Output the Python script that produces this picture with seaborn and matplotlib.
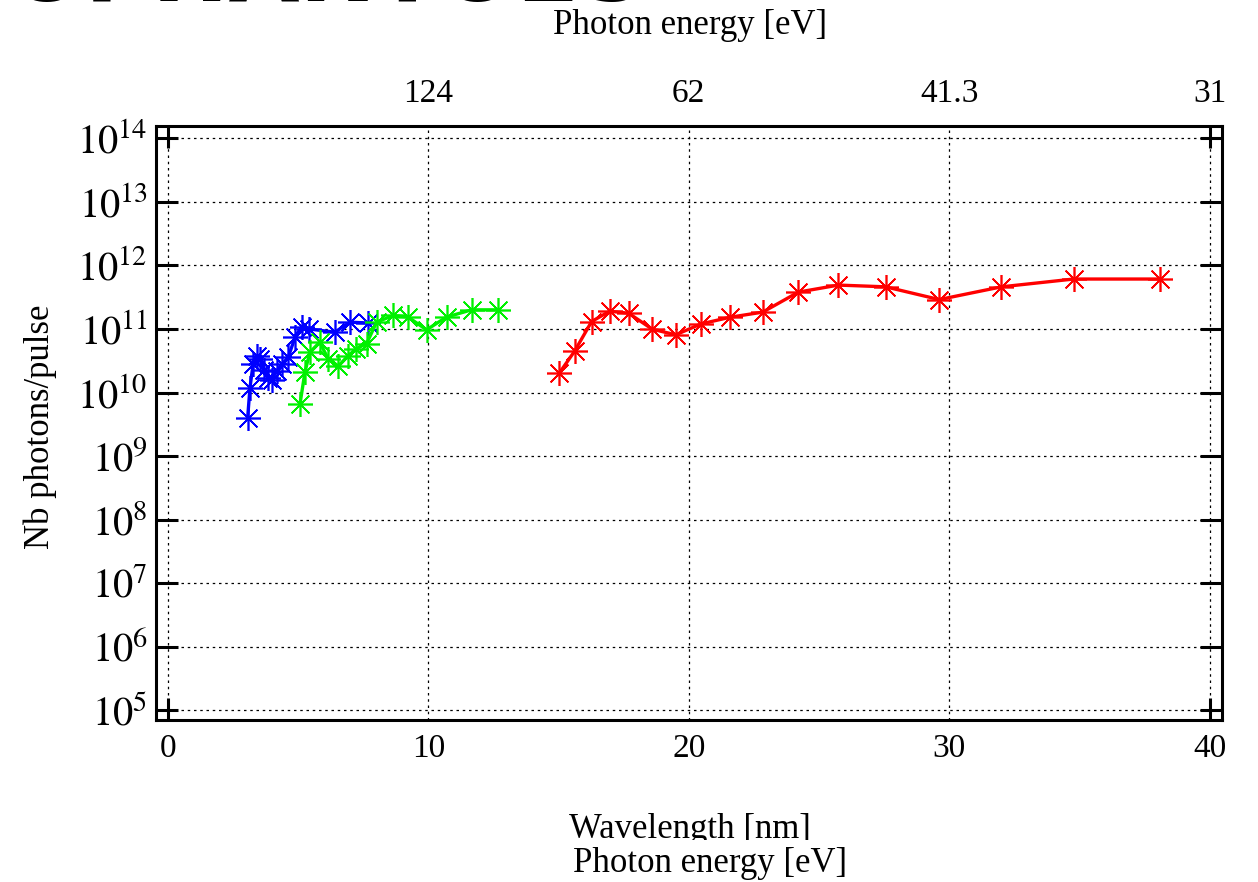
import numpy as np
import pandas as pd
import matplotlib
matplotlib.use("Agg")
import matplotlib.pyplot as plt
import seaborn as sns
from matplotlib.ticker import FixedLocator, FuncFormatter, NullLocator

# ---- data ----
blue_wl = [3.06, 3.15, 3.27, 3.40, 3.53, 3.69, 3.85, 3.99, 4.18, 4.38, 4.62, 4.88, 5.13, 5.41, 6.41, 6.99, 7.69]
blue_n = [4.0e9, 1.2e10, 2.8e10, 3.8e10, 3.4e10, 2.3e10, 1.7e10, 1.6e10, 2.2e10, 2.8e10, 3.6e10,
          7.4e10, 1.07e11, 1.0e11, 8.9e10, 1.28e11, 1.24e11]

green_wl = [5.07, 5.26, 5.45, 5.83, 6.15, 6.54, 6.92, 7.24, 7.63, 8.01, 8.65, 9.22, 9.93, 10.70, 11.66, 12.68]
green_n = [6.6e9, 2.1e10, 4.3e10, 6.2e10, 3.4e10, 2.6e10, 3.8e10, 4.9e10, 5.9e10, 1.28e11, 1.63e11,
           1.54e11, 9.7e10, 1.54e11, 2.0e11, 2.0e11]

red_wl = [15.02, 15.62, 16.27, 16.96, 17.69, 18.60, 19.50, 20.47, 21.59, 22.84, 24.21, 25.75, 27.56,
          29.62, 32.01, 34.78, 38.08]
red_n = [2.0e10, 4.5e10, 1.31e11, 1.9e11, 1.77e11, 9.9e10, 8.1e10, 1.2e11, 1.53e11, 1.84e11, 3.8e11,
         4.9e11, 4.6e11, 2.9e11, 4.6e11, 6.1e11, 6.1e11]

x_ticks = [0, 10, 20, 30, 40]
top_ticks = [10, 20, 30, 40]
top_labels = ["124", "62", "41.3", "31"]
y_exponents = list(range(5, 15))

title_text = "OPHANTOES"
top_xlabel = "Photon energy [eV]"
bottom_xlabel1 = "Wavelength [nm]"
bottom_xlabel2 = "Photon energy [eV]"
ylabel = "Nb photons/pulse"

# ---- style ----
sns.set_theme(style="white")
plt.rcParams["font.family"] = ["Liberation Serif", "DejaVu Serif"]
plt.rcParams["mathtext.fontset"] = "stix"
for k in ["text.color", "xtick.color", "ytick.color", "axes.labelcolor", "axes.edgecolor"]:
    plt.rcParams[k] = "black"

fig = plt.figure(figsize=(12.58, 8.82), dpi=100)
ax = fig.add_axes([0.124, 0.1837, 0.847, 0.674])

series = [(blue_wl, blue_n, "#0000ff"), (green_wl, green_n, "#00f000"), (red_wl, red_n, "#ff0000")]
for wl, n, c in series:
    df = pd.DataFrame({"wl": wl, "n": n})
    sns.lineplot(data=df, x="wl", y="n", ax=ax, color=c, linewidth=2.4,
                 marker=(8, 2, 0), markersize=18, markeredgecolor=c, markeredgewidth=1.2,
                 estimator=None, sort=False, legend=False)

ax.set_yscale("log")
ax.set_xlim(-0.46, 40.46)
ax.set_ylim(10 ** 4.85, 10 ** 14.2)

ax.xaxis.set_major_locator(FixedLocator(x_ticks))
ax.yaxis.set_major_locator(FixedLocator([10.0 ** e for e in y_exponents]))
ax.yaxis.set_minor_locator(NullLocator())
ax.yaxis.set_major_formatter(FuncFormatter(lambda v, p: r"$10^{%d}$" % int(round(np.log10(v)))))

ax.tick_params(axis="y", which="major", direction="in", length=16, width=2.2,
               left=True, right=True, labelsize=29, pad=6)
ax.tick_params(axis="x", which="major", direction="in", length=16, width=2.2,
               bottom=True, top=True, labelsize=24, pad=10)
# only the end ticks of the x axis are drawn
for t in ax.xaxis.get_major_ticks()[1:-1]:
    t.tick1line.set_visible(False)
    t.tick2line.set_visible(False)

for s in ax.spines.values():
    s.set_color("black")
    s.set_linewidth(2.2)

ax.grid(True, which="major", color="black", linestyle=(0, (2, 3)), linewidth=0.9)
ax.set_xlabel("")
ax.set_ylabel("")

sec = ax.secondary_xaxis("top")
sec.set_xticks(top_ticks)
sec.set_xticklabels(top_labels)
sec.tick_params(axis="x", direction="in", length=0, labelsize=24, pad=12, colors="black")
sec.spines["top"].set_visible(False)

# labels
fig.text(690 / 1258, 1 - 26 / 882, top_xlabel, ha="center", va="center", fontsize=25)
fig.text(40 / 1258, 1 - 427 / 882, ylabel, ha="center", va="center", rotation=90, fontsize=25)
fig.text(690 / 1258, 1 - 830 / 882, bottom_xlabel1, ha="center", va="center", fontsize=25)
fig.text(710 / 1258, 1 - 863 / 882, bottom_xlabel2, ha="center", va="center", fontsize=25,
         bbox=dict(facecolor="white", edgecolor="none", pad=5))

# clipped big title at the very top
fig.text(8 / 1258, 1 - 0.5 / 882, title_text, ha="left", va="baseline", fontsize=66,
         fontweight="bold", family="DejaVu Sans", color="black")

fig.savefig("out.png", dpi=100)
